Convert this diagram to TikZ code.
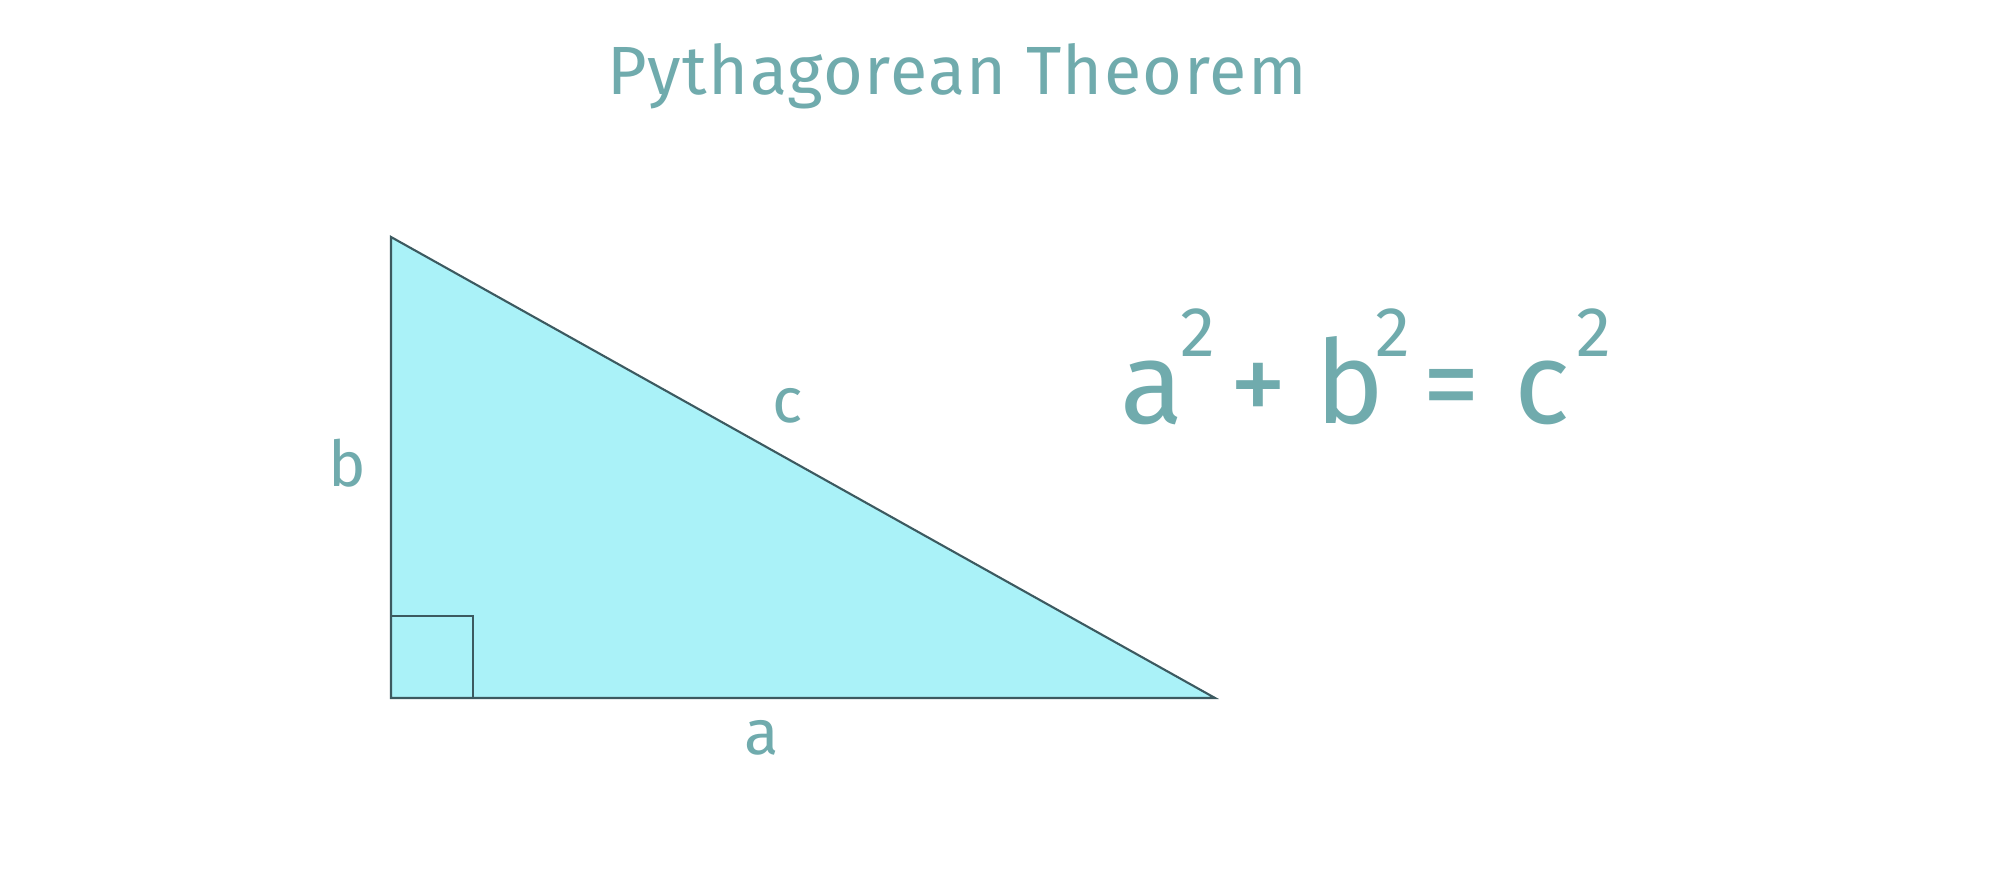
\documentclass[tikz,border=0pt]{standalone}
\usepackage{fontspec}
\setmainfont{Fira Sans}
\definecolor{teal}{HTML}{70ABAD}
\definecolor{tri}{HTML}{AAF2F8}
\definecolor{edge}{HTML}{3C5A60}
\begin{document}
\begin{tikzpicture}[x=0.01cm,y=-0.01cm,
  lbl/.style={text=teal,font=\fontsize{18}{21}\selectfont,inner sep=0pt,anchor=base},
  side/.style={draw=edge,line width=0.6pt}]
\useasboundingbox (0,0) rectangle (2000,880);
\fill[white] (0,0) rectangle (2000,880);
\coordinate (A) at (391,698);
\coordinate (B) at (391,237);
\coordinate (C) at (1215,698);
\coordinate (S1) at (391,616);
\coordinate (S2) at (473,616);
\coordinate (S3) at (473,698);
\fill[tri] (A) -- (B) -- (C) -- cycle;
\draw[side] (A) -- (B) -- (C) -- cycle;
\draw[side] (S1) -- (S2) -- (S3);
\node[lbl,font=\addfontfeature{LetterSpace=2}\fontsize{19.4}{22}\selectfont] (title) at (957,95) {Pythagorean Theorem};
\node[lbl] (lc) at (788,423) {c};
\node[lbl] (lb) at (347,487) {b};
\node[lbl] (la) at (762,755) {a};
\node[lbl,font=\fontsize{33}{40}\selectfont,anchor=base west] (eq) at (1120,424)
 {a\kern-0.03em\raisebox{0.58em}{\fontsize{20}{20}\selectfont 2}\kern0.12em+\kern0.25em b\kern-0.08em\raisebox{0.58em}{\fontsize{20}{20}\selectfont 2}\kern0.1em=\kern0.3em c\kern0.05em\raisebox{0.58em}{\fontsize{20}{20}\selectfont 2}};
\end{tikzpicture}
\end{document}
